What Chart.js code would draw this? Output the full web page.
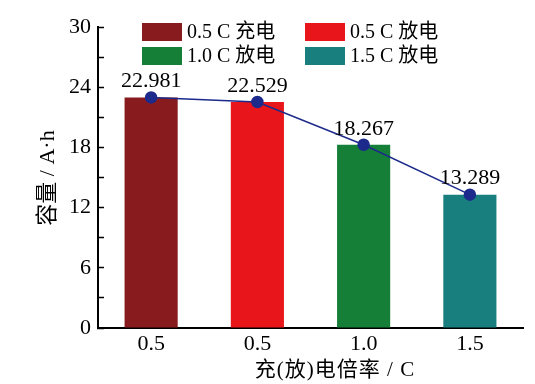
<!DOCTYPE html>
<html>
<head>
<meta charset="utf-8">
<script src="https://cdn.jsdelivr.net/npm/chart.js@4/dist/chart.umd.min.js"></script>
<style>
html,body{margin:0;padding:0;background:#fff;}
#wrap{width:535px;height:384px;}
</style>
</head>
<body>
<div id="wrap"><canvas id="c" width="535" height="384"></canvas></div>
<script>
const categories = ['0.5', '0.5', '1.0', '1.5'];
const capacity = [22.981, 22.529, 18.267, 13.289];
const seriesNames = ['0.5 C 充电', '0.5 C 放电', '1.0 C 放电', '1.5 C 放电'];
const barColors = ['#881b1d', '#e8161b', '#157f38', '#187f7e'];
const lineColor = '#1c2a8c';
const yTitle = '容量 / A·h';
const xTitle = '充(放)电倍率 / C';

const FONT = "'Liberation Serif', 'Noto Sans CJK SC', serif";

const decorPlugin = {
  id: 'decor',
  afterDatasetsDraw(chart) {
    const ctx = chart.ctx;
    const area = chart.chartArea;
    ctx.save();
    // data labels
    const meta = chart.getDatasetMeta(1);
    ctx.fillStyle = '#000';
    ctx.font = '22px ' + FONT;
    ctx.textAlign = 'center';
    ctx.textBaseline = 'middle';
    meta.data.forEach((pt, i) => {
      ctx.fillText(capacity[i].toFixed(3), pt.x, pt.y - 16);
    });
    // legend (2 x 2)
    ctx.font = '20px ' + FONT;
    const colX = [area.left + 44, area.left + 207];
    const rowY = [area.top - 4, area.top + 20];
    ctx.textAlign = 'left';
    seriesNames.forEach((name, i) => {
      const cx = colX[i % 2], cy = rowY[Math.floor(i / 2)];
      ctx.fillStyle = barColors[i];
      ctx.fillRect(cx, cy, 40, 18);
      ctx.fillStyle = '#000';
      ctx.fillText(name, cx + 45, cy + 9.5);
    });
    // axis titles
    ctx.textAlign = 'center';
    ctx.font = '21px ' + FONT;
    try { ctx.letterSpacing = '1px'; } catch (e) {}
    ctx.fillText(xTitle, 335, 370);
    try { ctx.letterSpacing = '0px'; } catch (e) {}
    ctx.font = '22px ' + FONT;
    ctx.translate(48, 178);
    ctx.rotate(-Math.PI / 2);
    ctx.fillText(yTitle, 0, 0);
    ctx.restore();
  }
};

new Chart(document.getElementById('c'), {
  type: 'bar',
  data: {
    labels: categories,
    datasets: [
      {
        type: 'bar',
        data: capacity,
        backgroundColor: barColors,
        categoryPercentage: 1,
        barPercentage: 0.5,
        order: 1
      },
      {
        type: 'line',
        data: capacity,
        borderColor: lineColor,
        borderWidth: 1.5,
        pointRadius: 5.5,
        pointBackgroundColor: lineColor,
        pointBorderColor: lineColor,
        tension: 0,
        order: 0
      }
    ]
  },
  options: {
    responsive: false,
    animation: false,
    devicePixelRatio: 1,
    layout: { padding: { top: 27, right: 12, left: 0, bottom: 0 } },
    plugins: { legend: { display: false }, tooltip: { enabled: false } },
    scales: {
      x: {
        offset: true,
        grid: { display: false, drawTicks: false },
        border: { display: true, color: '#000', width: 2 },
        ticks: { color: '#000', font: { family: FONT, size: 22 }, padding: 3 },
        afterFit(s) { s.height = 56; }
      },
      y: {
        min: 0, max: 30,
        ticks: {
          stepSize: 3,
          color: '#000',
          font: { family: FONT, size: 22 },
          padding: 13,
          callback: (v) => (v % 6 === 0 ? String(v) : '')
        },
        grid: { drawOnChartArea: false, tickLength: -6, tickColor: '#000', tickWidth: 1.5 },
        border: { display: true, color: '#000', width: 2 },
        afterFit(s) { s.width = 98; }
      }
    }
  },
  plugins: [decorPlugin]
});
</script>
</body>
</html>
